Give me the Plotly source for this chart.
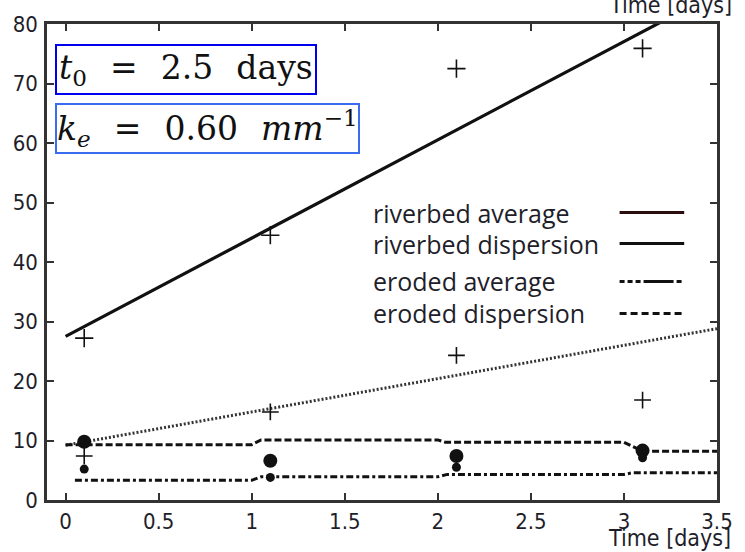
import plotly.graph_objects as go

# Sampling days and measured values
days = [0.1, 1.1, 2.1, 3.1]
riverbed_avg = [27.2, 44.5, 72.5, 75.9]
riverbed_disp = [7.4, 14.8, 24.3, 16.8]
eroded_avg = [9.8, 6.6, 7.4, 8.3]
eroded_disp = [5.2, 3.8, 5.5, 7.1]

# Model curves
riverbed_avg_t = [0.0, 3.5]
riverbed_avg_fit = [27.5, 85.3]
riverbed_disp_t = [0.0, 3.5]
riverbed_disp_fit = [9.2, 28.8]
eroded_avg_t = [0.0, 1.0, 1.05, 2.0, 2.04, 3.0, 3.1, 3.5]
eroded_avg_fit = [9.3, 9.3, 10.1, 10.1, 9.7, 9.7, 8.2, 8.2]
eroded_disp_t = [0.05, 1.0, 1.05, 2.0, 2.05, 3.0, 3.05, 3.5]
eroded_disp_fit = [3.3, 3.3, 3.9, 3.9, 4.3, 4.3, 4.6, 4.6]

x_ticks = [0, 0.5, 1, 1.5, 2, 2.5, 3, 3.5]
x_tick_text = ["0", "0.5", "1", "1.5", "2", "2.5", "3", "3.5"]
y_ticks = [0, 10, 20, 30, 40, 50, 60, 70, 80]

legend_labels = ["riverbed average", "riverbed dispersion", "eroded average", "eroded dispersion"]

W, H = 745, 552
L, R, T, B = 47, 24, 23, 52
PW, PH = W - L - R, H - T - B


def px(xp):
    return (xp - L) / PW


def py(yp):
    return (H - B - yp) / PH


TICK_FONT = dict(family="DejaVu Sans Condensed, Liberation Sans Narrow, Liberation Sans", size=22, color="#1e1e2a")
TITLE_FONT = dict(family="DejaVu Sans Condensed, Liberation Sans Narrow, Liberation Sans", size=23, color="#1e1e2a")
LEG_FONT = dict(family="Open Sans, Liberation Sans", size=25, color="#1e1e2a")
MATH_FONT = dict(family="DejaVu Serif, Liberation Serif", size=33, color="#111")

fig = go.Figure()

fig.add_trace(go.Scatter(x=riverbed_disp_t, y=riverbed_disp_fit, mode="lines",
                         line=dict(color="#333", width=3, dash="2px,2px"), showlegend=False))
fig.add_trace(go.Scatter(x=eroded_avg_t, y=eroded_avg_fit, mode="lines",
                         line=dict(color="#111", width=3, dash="7px,3px"), showlegend=False))
fig.add_trace(go.Scatter(x=eroded_disp_t, y=eroded_disp_fit, mode="lines",
                         line=dict(color="#111", width=3, dash="7px,3px,3px,3px"), showlegend=False))
fig.add_trace(go.Scatter(x=riverbed_avg_t, y=riverbed_avg_fit, mode="lines",
                         line=dict(color="#111", width=3.2), showlegend=False))

fig.add_trace(go.Scatter(x=days, y=riverbed_avg, mode="markers",
                         marker=dict(symbol="cross-thin", size=13, line=dict(color="#111", width=1.6)),
                         showlegend=False))
fig.add_trace(go.Scatter(x=days, y=riverbed_disp, mode="markers",
                         marker=dict(symbol="cross-thin", size=12, line=dict(color="#111", width=1.6)),
                         showlegend=False))
fig.add_trace(go.Scatter(x=days, y=eroded_avg, mode="markers",
                         marker=dict(symbol="circle", size=14, color="#111"), showlegend=False))
fig.add_trace(go.Scatter(x=days, y=eroded_disp, mode="markers",
                         marker=dict(symbol="circle", size=9, color="#111"), showlegend=False))

axis_common = dict(showline=True, linecolor="#333", linewidth=2.5, mirror="allticks",
                   ticks="inside", ticklen=7, tickwidth=2, tickcolor="#333",
                   showgrid=False, zeroline=False, tickfont=TICK_FONT)

fig.update_xaxes(range=[-0.1, 3.5], tickvals=x_ticks, ticktext=x_tick_text, **axis_common)
fig.update_yaxes(range=[0, 80], tickvals=y_ticks, ticklabelstandoff=2, **axis_common)

SP = "\u2002\u2009"
annotations = [
    dict(text=f"<i>t</i><sub>0</sub>{SP}={SP}2.5{SP}days", x=px(55), y=py(68.5), xref="paper", yref="paper",
         xanchor="left", yanchor="middle", showarrow=False, font=MATH_FONT,
         bordercolor="#0000ee", borderwidth=2, borderpad=2, bgcolor="white"),
    dict(text=f"<i>k<sub>e</sub></i>{SP}={SP}0.60{SP}<i>mm</i><sup>\u22121</sup>", x=px(55), y=py(128),
         xref="paper", yref="paper", xanchor="left", yanchor="middle", showarrow=False,
         font=MATH_FONT, bordercolor="#3a6cf0", borderwidth=2, borderpad=0, bgcolor="white"),
    dict(text="Time [days]", x=px(737), y=py(538), xref="paper", yref="paper",
         xanchor="right", yanchor="middle", showarrow=False, font=TITLE_FONT),
    dict(text="Time [days]", x=px(738), y=py(4), xref="paper", yref="paper",
         xanchor="right", yanchor="middle", showarrow=False, font=TITLE_FONT),
]

legend_rows = [212, 243, 281, 313]
legend_styles = [
    dict(color="#2b0d0d", width=3, dash="solid"),
    dict(color="#111", width=3, dash="solid"),
    dict(color="#111", width=3, dash="5px,3px,5px,3px,5px,3px,30px,3px"),
    dict(color="#111", width=3, dash="7px,4px"),
]
shapes = []
for label, row, style in zip(legend_labels, legend_rows, legend_styles):
    annotations.append(dict(text=label, x=px(373), y=py(row), xref="paper", yref="paper",
                            xanchor="left", yanchor="middle", showarrow=False, font=LEG_FONT))
    shapes.append(dict(type="line", xref="paper", yref="paper", x0=px(623), x1=px(688),
                       y0=py(row), y1=py(row), line=style))

fig.update_layout(width=W, height=H, autosize=False,
                  margin=dict(l=L, r=R, t=T, b=B),
                  paper_bgcolor="white", plot_bgcolor="white",
                  annotations=annotations, shapes=shapes, showlegend=False)

fig.write_html("out.html")
